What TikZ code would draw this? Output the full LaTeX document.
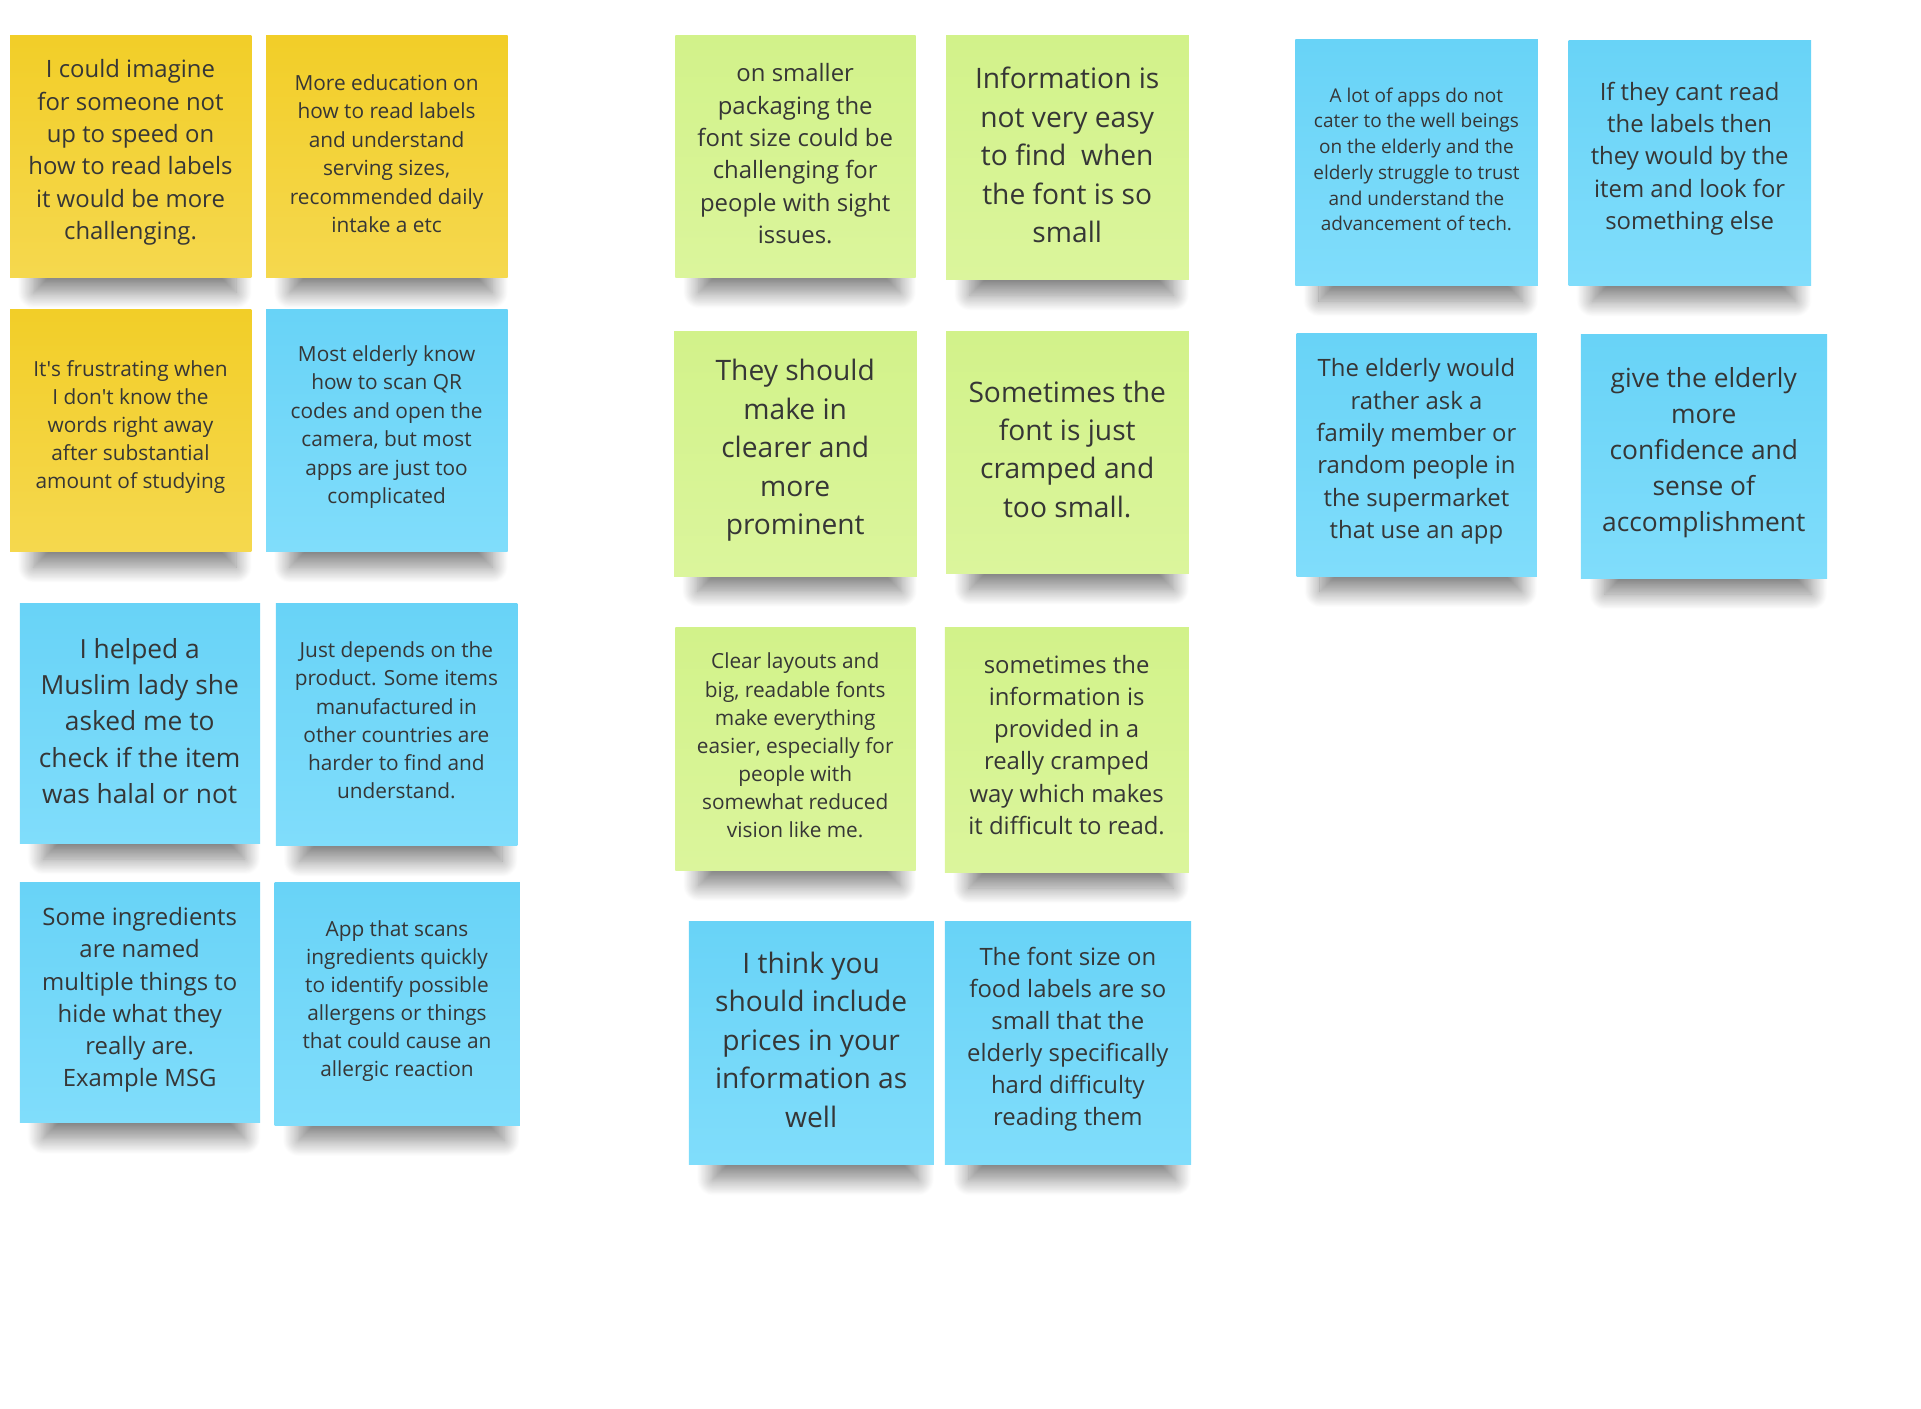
\documentclass[tikz,border=0pt]{standalone}
\usepackage{fontspec}
\setmainfont{Open Sans}
\usetikzlibrary{shadows.blur}
\newcommand\nf[2]{\fontsize{#1}{#2}\selectfont}
\definecolor{ytop}{HTML}{F2CE28}
\definecolor{ybot}{HTML}{F5D84E}
\definecolor{gtop}{HTML}{D2F28A}
\definecolor{gbot}{HTML}{DBF59C}
\definecolor{btop}{HTML}{68D3F7}
\definecolor{bbot}{HTML}{80DDFB}
\definecolor{ink}{HTML}{363636}
\tikzset{
  sticky/.style={rectangle, inner sep=0pt, anchor=north west,
    blur shadow={shadow xshift=4pt, shadow yshift=-34pt, shadow scale=0.84,
      shadow blur radius=15pt, shadow blur steps=20, shadow opacity=48}},
  yel/.style={sticky, top color=ytop, bottom color=ybot},
  grn/.style={sticky, top color=gtop, bottom color=gbot},
  blu/.style={sticky, top color=btop, bottom color=bbot},
  txt/.style={align=center, text=ink, inner sep=0pt, yshift=-2.5pt},
}
\begin{document}
\begin{tikzpicture}[x=1pt,y=-1pt]
\useasboundingbox (0,0) rectangle (1567.8,1149.2);
% ---- left group
\node[yel, minimum width=197pt, minimum height=197pt] (n1) at (8,29) {};
\node[txt, font=\nf{19.5}{26.4}] (n1t) at (106.5,122) {I could imagine\\for someone not\\up to speed on\\how to read labels\\it would be more\\challenging.};
\node[yel, minimum width=197pt, minimum height=197pt] (n2) at (217,29) {};
\node[txt, font=\nf{17}{23.2}] (n2t) at (315.5,123) {More education on\\how to read labels\\and understand\\serving sizes,\\recommended daily\\intake a etc};
\node[yel, minimum width=197pt, minimum height=198pt] (n3) at (8,252) {};
\node[txt, font=\nf{17}{23}] (n3t) at (106.5,346) {It\textquotesingle s frustrating when\\I don\textquotesingle t know the\\words right away\\after substantial\\amount of studying};
\node[blu, minimum width=197pt, minimum height=198pt] (n4) at (217,252) {};
\node[txt, font=\nf{17}{23.2}] (n4t) at (315.5,346) {Most elderly know\\how to scan QR\\codes and open the\\camera, but most\\apps are just too\\complicated};
\node[blu, minimum width=196pt, minimum height=196pt] (n5) at (16,492) {};
\node[txt, font=\nf{21.5}{29.5}] (n5t) at (114,586) {I helped a\\Muslim lady she\\asked me to\\check if the item\\was halal or not};
\node[blu, minimum width=197pt, minimum height=198pt] (n6) at (225,492) {};
\node[txt, font=\nf{17}{23}] (n6t) at (323.5,585.5) {Just depends on the\\product. Some items\\manufactured in\\other countries are\\harder to find and\\understand.};
\node[blu, minimum width=196pt, minimum height=196pt] (n7) at (16,720) {};
\node[txt, font=\nf{19.5}{26.2}] (n7t) at (114,813.5) {Some ingredients\\are named\\multiple things to\\hide what they\\really are.\\Example MSG};
\node[blu, minimum width=200pt, minimum height=198pt] (n8) at (224,720) {};
\node[txt, font=\nf{17}{23}] (n8t) at (324,814.5) {App that scans\\ingredients quickly\\to identify possible\\allergens or things\\that could cause an\\allergic reaction};
% ---- middle group
\node[grn, minimum width=196pt, minimum height=197pt] (g1) at (551,29) {};
\node[txt, font=\nf{19.5}{26.4}] (g1t) at (649,123) {on smaller\\packaging the\\font size could be\\challenging for\\people with sight\\issues.};
\node[grn, minimum width=198pt, minimum height=199pt] (g2) at (772,29) {};
\node[txt, font=\nf{23}{31.5}] (g2t) at (871,124) {Information is\\not very easy\\to find\ \ when\\the font is so\\small};
\node[grn, minimum width=198pt, minimum height=200pt] (g3) at (550,270) {};
\node[txt, font=\nf{23}{31.5}] (g3t) at (649,365) {They should\\make in\\clearer and\\more\\prominent};
\node[grn, minimum width=198pt, minimum height=198pt] (g4) at (772,270) {};
\node[txt, font=\nf{23}{31.3}] (g4t) at (871,364) {Sometimes the\\font is just\\cramped and\\too small.};
\node[grn, minimum width=196pt, minimum height=198pt] (g5) at (551,512) {};
\node[txt, font=\nf{17}{23}] (g5t) at (649,606) {Clear layouts and\\big, readable fonts\\make everything\\easier, especially for\\people with\\somewhat reduced\\vision like me.};
\node[grn, minimum width=199pt, minimum height=200pt] (g6) at (771,512) {};
\node[txt, font=\nf{19.5}{26.2}] (g6t) at (870.5,605.5) {sometimes the\\information is\\provided in a\\really cramped\\way which makes\\it difficult to read.};
\node[blu, minimum width=200pt, minimum height=198pt] (b1) at (562,752) {};
\node[txt, font=\nf{23}{31.5}] (b1t) at (662,846) {I think you\\should include\\prices in your\\information as\\well};
\node[blu, minimum width=201pt, minimum height=198pt] (b2) at (771,752) {};
\node[txt, font=\nf{19.5}{26.2}] (b2t) at (871.5,845.5) {The font size on\\food labels are so\\small that the\\elderly specifically\\hard difficulty\\reading them};
% ---- right group
\node[blu, minimum width=198pt, minimum height=201pt] (c1) at (1057,32) {};
\node[txt, font=\nf{15.5}{21}] (c1t) at (1156,127.5) {A lot of apps do not\\cater to the well beings\\on the elderly and the\\elderly struggle to trust\\and understand the\\advancement of tech.};
\node[blu, minimum width=198pt, minimum height=200pt] (c2) at (1280,33) {};
\node[txt, font=\nf{19.5}{26.4}] (c2t) at (1379,127) {If they cant read\\the labels then\\they would by the\\item and look for\\something else};
\node[blu, minimum width=196pt, minimum height=198pt] (c3) at (1058,272) {};
\node[txt, font=\nf{19.5}{26.4}] (c3t) at (1156,366) {The elderly would\\rather ask a\\family member or\\random people in\\the supermarket\\that use an app};
\node[blu, minimum width=201pt, minimum height=199pt] (c4) at (1290,273) {};
\node[txt, font=\nf{21.5}{29.5}] (c4t) at (1390.5,367) {give the elderly\\more\\confidence and\\sense of\\accomplishment};
\end{tikzpicture}
\end{document}
